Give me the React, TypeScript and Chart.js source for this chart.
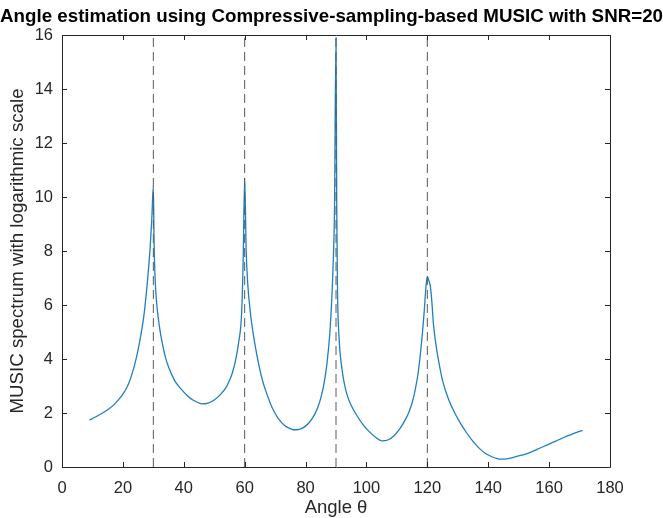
import React, { useEffect, useRef } from "react";
import { Chart, registerables } from "chart.js";

Chart.register(...registerables);

const TITLE = "Angle estimation using Compressive-sampling-based MUSIC with SNR=20";
const X_LABEL = "Angle θ";
const Y_LABEL = "MUSIC spectrum with logarithmic scale";

const ANGLES = [
  9, 11, 13, 15, 17, 19, 20, 21, 22, 23, 24, 25, 26, 27, 28, 29, 29.5, 30, 30.25, 30.5, 31, 32, 33, 34, 35, 37, 39, 41, 43,
  45, 46, 48, 50, 52, 54, 55, 56, 57, 58, 59, 59.5, 60, 60.5, 61, 62, 63, 64, 65, 66, 67, 69, 71, 73, 75, 76, 77, 79, 81,
  83, 84, 85, 86, 87, 88, 88.6, 89, 89.5, 90, 90.25, 90.5, 91, 92, 93, 94, 95, 97, 99, 101, 103, 105, 107, 109, 111, 113,
  114, 115, 116, 117, 118, 119, 119.5, 120, 120.5, 121, 121.5, 122, 123, 124, 125, 127, 129, 131, 133, 135, 137, 139, 141,
  143, 144, 146, 148, 150, 152, 154, 156, 158, 160, 162, 164, 166, 168, 170, 171,
];

const SPECTRUM = [
  1.74, 1.85, 1.98, 2.12, 2.3, 2.55, 2.7, 2.88, 3.12, 3.45, 3.85, 4.35, 4.95, 5.7, 6.8, 8.2, 9.2, 10.4, 8.3, 7.2, 6.2, 5.2,
  4.55, 4.05, 3.7, 3.2, 2.9, 2.66, 2.48, 2.37, 2.34, 2.37, 2.48, 2.68, 2.97, 3.2, 3.5, 3.95, 4.6, 5.7, 7.6, 10.7, 8.0, 6.8,
  5.6, 4.8, 4.15, 3.6, 3.15, 2.8, 2.2, 1.8, 1.55, 1.42, 1.38, 1.38, 1.44, 1.62, 1.95, 2.2, 2.55, 3.05, 3.8, 5.0, 6.2, 7.3,
  9.5, 15.9, 9.5, 6.5, 4.8, 3.6, 2.95, 2.55, 2.28, 1.88, 1.55, 1.3, 1.1, 0.97, 1.0, 1.15, 1.42, 1.8, 2.05, 2.38, 2.85,
  3.5, 4.5, 5.8, 6.6, 7.05, 6.9, 6.68, 6.1, 5.3, 4.4, 3.75, 3.2, 2.5, 2.0, 1.6, 1.25, 0.95, 0.7, 0.51, 0.39, 0.31, 0.29,
  0.3, 0.35, 0.41, 0.47, 0.55, 0.65, 0.75, 0.85, 0.95, 1.05, 1.15, 1.24, 1.32, 1.36,
];

const TRUE_ANGLES = [30, 60, 90, 120];
const X_MIN = 0;
const X_MAX = 180;
const X_STEP = 20;
const Y_MIN = 0;
const Y_MAX = 16;
const Y_STEP = 2;

const AXIS_COLOR = "#262626";
const FONT = "'Liberation Sans', Arial, Helvetica, sans-serif";

const boxTicksPlugin = {
  id: "boxTicks",
  afterDraw(chart: any) {
    const { ctx, chartArea } = chart;
    const { left, right, top, bottom } = chartArea;
    const xs = chart.scales.x;
    const ys = chart.scales.y;
    const len = 5;
    ctx.save();
    ctx.strokeStyle = AXIS_COLOR;
    ctx.lineWidth = 1;
    ctx.beginPath();
    ctx.rect(Math.round(left) + 0.5, Math.round(top) + 0.5, Math.round(right - left), Math.round(bottom - top));
    ctx.stroke();
    ctx.beginPath();
    xs.ticks.forEach((t: any) => {
      const px = Math.round(xs.getPixelForValue(t.value)) + 0.5;
      ctx.moveTo(px, bottom);
      ctx.lineTo(px, bottom - len);
      ctx.moveTo(px, top);
      ctx.lineTo(px, top + len);
    });
    ys.ticks.forEach((t: any) => {
      const py = Math.round(ys.getPixelForValue(t.value)) + 0.5;
      ctx.moveTo(left, py);
      ctx.lineTo(left + len, py);
      ctx.moveTo(right, py);
      ctx.lineTo(right - len, py);
    });
    ctx.stroke();
    ctx.restore();
  },
};

export default function App() {
  const canvasRef = useRef<HTMLCanvasElement | null>(null);

  useEffect(() => {
    const canvas = canvasRef.current;
    if (!canvas) return;

    const spectrumData = ANGLES.map((a, i) => ({ x: a, y: SPECTRUM[i] }));
    const dashedSets = TRUE_ANGLES.map((a) => ({
      label: `true ${a}`,
      data: [
        { x: a, y: Y_MIN },
        { x: a, y: Y_MAX },
      ],
      borderColor: "#5a5a5a",
      borderWidth: 1,
      borderDash: [9, 5],
      pointRadius: 0,
      fill: false,
    }));

    const chart = new Chart(canvas, {
      type: "line",
      data: {
        datasets: [
          ...dashedSets,
          {
            label: "MUSIC spectrum",
            data: spectrumData,
            borderColor: "#1f7fc0",
            borderWidth: 1.3,
            pointRadius: 0,
            cubicInterpolationMode: "monotone",
            fill: false,
          },
        ],
      },
      options: {
        responsive: false,
        animation: false,
        events: [],
        layout: { padding: 0 },
        plugins: {
          legend: { display: false },
          tooltip: { enabled: false },
          title: {
            display: true,
            text: TITLE,
            color: "#000000",
            font: { family: FONT, size: 19, weight: "bold", lineHeight: 1.2 },
            padding: { top: 5.6, bottom: 6.6 },
          },
        },
        scales: {
          x: {
            type: "linear",
            min: X_MIN,
            max: X_MAX,
            grid: { display: false, drawTicks: false },
            border: { display: false },
            ticks: {
              stepSize: X_STEP,
              color: AXIS_COLOR,
              padding: 12,
              maxRotation: 0,
              font: { family: FONT, size: 16.5 },
            },
            title: {
              display: true,
              text: X_LABEL,
              color: AXIS_COLOR,
              font: { family: FONT, size: 18.5, lineHeight: 1 },
              padding: { top: 0, bottom: 0.7 },
            },
            afterFit(scale: any) {
              scale.height = 51;
            },
          },
          y: {
            type: "linear",
            min: Y_MIN,
            max: Y_MAX,
            grid: { display: false, drawTicks: false },
            border: { display: false },
            ticks: {
              stepSize: Y_STEP,
              color: AXIS_COLOR,
              padding: 9,
              font: { family: FONT, size: 16.5 },
            },
            title: {
              display: true,
              text: Y_LABEL,
              color: AXIS_COLOR,
              font: { family: FONT, size: 18.7, lineHeight: 1 },
              padding: { top: 8.6, bottom: 0 },
            },
            afterFit(scale: any) {
              scale.width = 62;
            },
          },
          yRightMargin: {
            type: "linear",
            position: "right",
            display: true,
            grid: { display: false, drawTicks: false },
            border: { display: false },
            ticks: { display: false },
            afterFit(scale: any) {
              scale.width = 53;
            },
          },
        },
      },
      plugins: [boxTicksPlugin],
    });

    return () => chart.destroy();
  }, []);

  return (
    <div style={{ position: "fixed", left: 0, top: 0, width: 663, height: 518, background: "#ffffff" }}>
      <canvas ref={canvasRef} width={663} height={518} style={{ display: "block" }} />
    </div>
  );
}
